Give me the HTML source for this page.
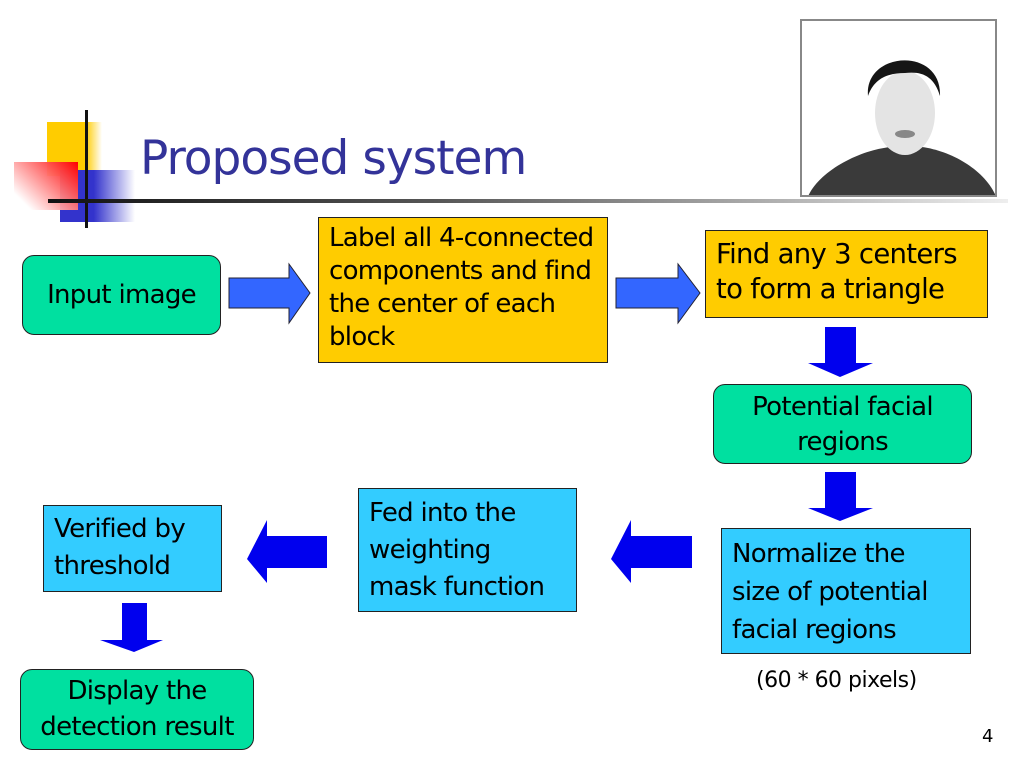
<!DOCTYPE html>
<html><head><meta charset="utf-8"><style>
body{margin:0;width:1024px;height:768px;background:#fff;position:relative;overflow:hidden;font-family:"DejaVu Sans","Liberation Sans",sans-serif;}
.b{position:absolute;box-sizing:border-box;border:1.5px solid #222;color:#000;font-size:26px;line-height:34px;letter-spacing:-0.7px;white-space:nowrap;}
.g{background:#00E0A0;border-radius:12px;text-align:center;}
.y{background:#FFCC00;}
.c{background:#33CCFF;}
</style></head><body>
<div style="position:absolute;left:47px;top:122px;width:55px;height:54px;background:linear-gradient(90deg,#FFCC00 70%,#fff)"></div>
<div style="position:absolute;left:60px;top:170px;width:75px;height:52px;background:linear-gradient(90deg,#3333CC 45%,#fff)"></div>
<div style="position:absolute;left:14px;top:162px;width:64px;height:48px;background:linear-gradient(225deg,#FF0000,rgba(255,255,255,0.9) 85%)"></div>
<div style="position:absolute;left:85px;top:110px;width:3px;height:118px;background:#111"></div>
<div style="position:absolute;left:48px;top:199px;width:960px;height:4px;background:linear-gradient(90deg,#111,#555 40%,#eee)"></div>
<div style="position:absolute;left:140px;top:131px;font-size:47px;color:#333399;font-family:'DejaVu Sans',sans-serif;letter-spacing:-1px">Proposed system</div>
<div style="position:absolute;left:800px;top:19px;width:197px;height:178px;box-sizing:border-box;border:2px solid #888;background:#fff;overflow:hidden">
<svg width="197" height="178">
<path d="M5 178 C15 150 60 128 90 126 L120 126 C150 130 185 150 195 178Z" fill="#3a3a3a"/>
<ellipse cx="103" cy="92" rx="30" ry="42" fill="#e4e4e4"/>
<path d="M66 75 C62 30 140 25 138 75 C132 55 120 50 103 52 C85 52 72 58 66 75Z" fill="#151515"/>
<ellipse cx="103" cy="113" rx="10" ry="4" fill="#888"/>
</svg></div>

<svg style="position:absolute;left:0;top:0" width="1024" height="768">
<g fill="#3366FF" stroke="#223" stroke-width="1">
<polygon points="229,278 289,278 289,264 310,293 289,323 289,308 229,308"/>
<polygon points="616,278 678,278 678,264 700,293 678,323 678,308 616,308"/>
</g>
<g fill="#0000EE">
<polygon points="825,327 856,327 856,363 873,363 840,377 808,363 825,363"/>
<polygon points="825,472 856,472 856,508 873,508 840,521 808,508 825,508"/>
<polygon points="692,536 631,536 631,520 611,559 631,583 631,568 692,568"/>
<polygon points="327,536 267,536 267,520 247,559 267,583 267,568 327,568"/>
<polygon points="122,603 147,603 147,640 163,640 134,652 100,640 122,640"/>
</g>
</svg>

<div class="b g" style="left:22px;top:255px;width:199px;height:80px;line-height:78px">Input image</div>
<div class="b y" style="left:318px;top:217px;width:290px;height:146px;padding:4px 0 0 10px;line-height:33px">Label all 4-connected<br>components and find<br>the center of each<br>block</div>
<div class="b y" style="left:705px;top:230px;width:283px;height:88px;padding:6px 0 0 10px;line-height:35px;font-size:27.5px">Find any 3 centers<br>to form a triangle</div>
<div class="b g" style="left:713px;top:384px;width:259px;height:80px;padding-top:5px;line-height:35px">Potential facial<br>regions</div>
<div class="b c" style="left:721px;top:528px;width:250px;height:126px;padding:6px 0 0 10px;line-height:38px">Normalize the<br>size of potential<br>facial regions</div>
<div style="position:absolute;left:756px;top:668px;font-size:22px;letter-spacing:-0.5px">(60 * 60 pixels)</div>
<div class="b c" style="left:358px;top:488px;width:219px;height:124px;padding:6px 0 0 10px;line-height:37px">Fed into the<br>weighting<br>mask function</div>
<div class="b c" style="left:43px;top:505px;width:179px;height:87px;padding:5px 0 0 10px;line-height:37px">Verified by<br>threshold</div>
<div class="b g" style="left:20px;top:669px;width:234px;height:81px;padding-top:3px;line-height:36px">Display the<br>detection result</div>
<div style="position:absolute;left:982px;top:726px;font-size:18px">4</div>
</body></html>
